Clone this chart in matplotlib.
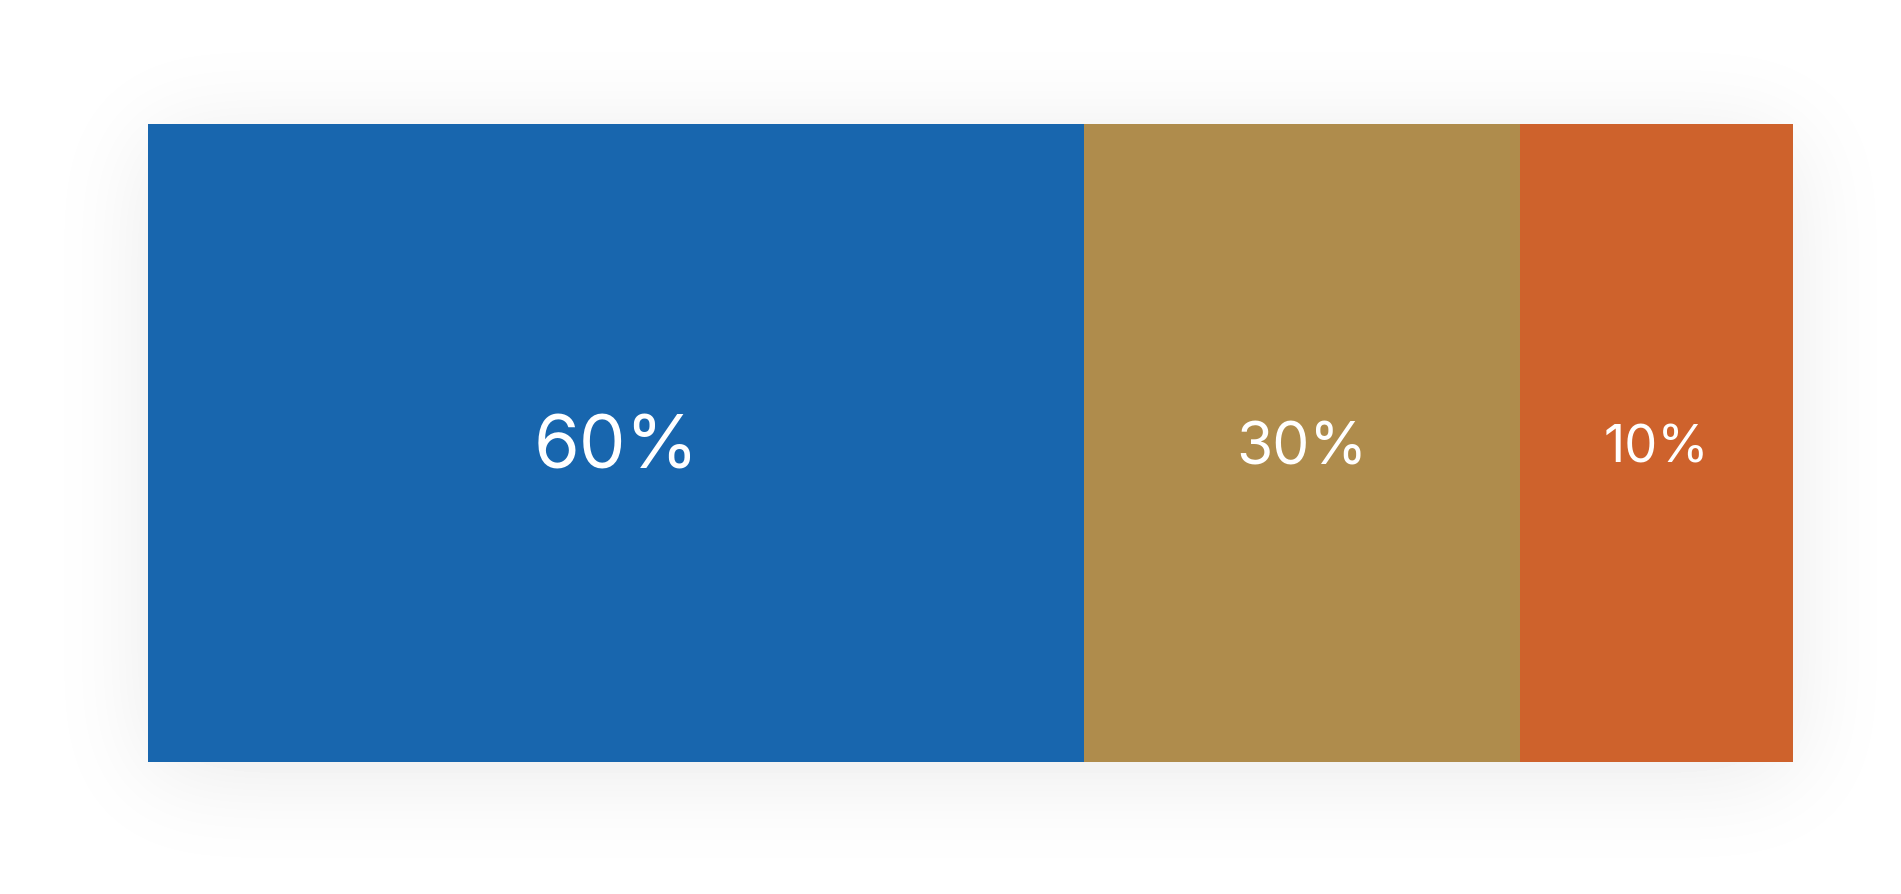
import math
import numpy as np
import matplotlib
matplotlib.use("Agg")
import matplotlib.pyplot as plt

# shares shown on the bar, and the widths of the segments as drawn
labels = ["60%", "30%", "10%"]
widths = [56.9, 26.5, 16.6]
colors = ["#1866AE", "#AF8C4C", "#CE622C"]
label_sizes = [58, 46, 41]

W, H = 1901, 894
fig = plt.figure(figsize=(W / 100, H / 100), dpi=100)
fig.patch.set_facecolor("white")

# bar box in pixels
x0, x1 = 148, 1793
y0, y1 = 124, 762

# soft drop shadow behind the bar
bg = fig.add_axes([0, 0, 1, 1])
bg.set_axis_off()
erf = np.vectorize(math.erf)
sig = 50.0
off = 12
xs = np.arange(W) + 0.5
ys = np.arange(H) + 0.5
sx = 0.5 * (erf((xs - x0) / (sig * 1.414)) - erf((xs - x1) / (sig * 1.414)))
sy = 0.5 * (erf((ys - y0 - off) / (sig * 1.414)) - erf((ys - y1 - off) / (sig * 1.414)))
shade = np.outer(sy, sx)
img = 1.0 - 0.085 * shade
bg.imshow(img, cmap="gray", vmin=0, vmax=1, extent=[0, W, H, 0], aspect="auto",
          interpolation="bilinear")
bg.set_xlim(0, W)
bg.set_ylim(H, 0)

ax = fig.add_axes([x0 / W, 1 - y1 / H, (x1 - x0) / W, (y1 - y0) / H])
ax.set_axis_off()
left = 0
for lab, w, c, fs in zip(labels, widths, colors, label_sizes):
    ax.barh(0.5, w, left=left, height=1.0, color=c, edgecolor="none")
    ax.text(left + w / 2, 0.49, lab, ha="center", va="center", color="white",
            fontsize=fs * 0.92, family=["Inter", "DejaVu Sans"])
    left += w
ax.set_xlim(0, sum(widths))
ax.set_ylim(0, 1)

fig.savefig("out.png", dpi=100)
